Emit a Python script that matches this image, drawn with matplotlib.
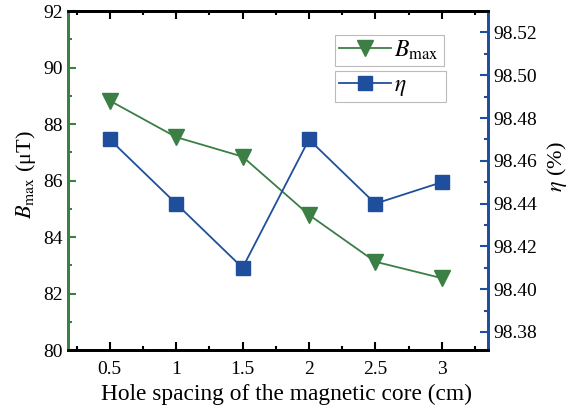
import matplotlib
matplotlib.use("Agg")
import matplotlib.pyplot as plt
from matplotlib.lines import Line2D
from matplotlib.ticker import MultipleLocator, FormatStrFormatter

# Data
spacing = [0.5, 1.0, 1.5, 2.0, 2.5, 3.0]
b_max = [88.83, 87.54, 86.85, 84.79, 83.13, 82.55]
eta = [98.47, 98.44, 98.41, 98.47, 98.44, 98.45]
x_ticks = [0.5, 1, 1.5, 2, 2.5, 3]
x_tick_labels = ["0.5", "1", "1.5", "2", "2.5", "3"]

GREEN = "#3b7f45"
BLUE = "#1f4f9c"

plt.rcParams["font.family"] = "Liberation Serif"
plt.rcParams["mathtext.fontset"] = "stix"

fig = plt.figure(figsize=(5.71, 4.11), dpi=100)
ax = fig.add_axes([0.119, 0.148, 0.736, 0.825])
ax2 = ax.twinx()

ax.plot(spacing, b_max, color=GREEN, lw=1.3, marker="v", ms=12, zorder=3)
ax2.plot(spacing, eta, color=BLUE, lw=1.3, marker="s", ms=10, zorder=3)

ax.set_xlim(0.185, 3.35)
ax.set_ylim(80, 92)
ax2.set_ylim(98.3715, 98.530)

ax.set_xticks(x_ticks)
ax.set_xticklabels(x_tick_labels)
ax.xaxis.set_minor_locator(MultipleLocator(0.25))
ax.yaxis.set_major_locator(MultipleLocator(2))
ax.yaxis.set_minor_locator(MultipleLocator(1))
ax2.yaxis.set_major_locator(MultipleLocator(0.02))
ax2.yaxis.set_minor_locator(MultipleLocator(0.01))
ax2.yaxis.set_major_formatter(FormatStrFormatter("%.2f"))

ax.tick_params(axis="x", which="both", direction="in", top=True, labelsize=14, width=1.5, pad=8)
ax.tick_params(axis="x", which="major", length=6)
ax.tick_params(axis="x", which="minor", length=3)
ax.tick_params(axis="y", which="both", direction="in", colors=GREEN, labelcolor="black", labelsize=14, width=1.5)
ax.tick_params(axis="y", which="major", length=6)
ax.tick_params(axis="y", which="minor", length=3)
ax2.tick_params(axis="y", which="both", direction="in", colors=BLUE, labelcolor="black", labelsize=14, width=1.5)
ax2.tick_params(axis="y", which="major", length=6)
ax2.tick_params(axis="y", which="minor", length=3)

for a in (ax, ax2):
    for s in a.spines.values():
        s.set_linewidth(2)
    a.spines["left"].set_color(GREEN)
    a.spines["right"].set_color(BLUE)
    a.spines["top"].set_color("black")
    a.spines["bottom"].set_color("black")

ax.set_xlabel("Hole spacing of the magnetic core (cm)", fontsize=16.8)
ax.xaxis.set_label_coords(0.519, -0.10)
ax.set_ylabel(r"$B_{\mathrm{max}}$ (μT)", fontsize=16)
ax.yaxis.set_label_coords(-0.071, 0.516)
ax2.set_ylabel(r"$\eta$ (%)", fontsize=16)
ax2.yaxis.set_label_coords(1.135, 0.54)

# Two separate legend boxes, as in the reference
h1 = Line2D([], [], color=GREEN, lw=1.3, marker="v", ms=12)
h2 = Line2D([], [], color=BLUE, lw=1.3, marker="s", ms=10)
leg_kw = dict(loc="upper left", fontsize=17, frameon=True, fancybox=False, edgecolor="#aaaaaa",
              handlelength=2.2, borderpad=0.15, handletextpad=0.15, borderaxespad=0)
leg1 = ax2.legend([h1], [r"$B_{\mathrm{max}}$ "], bbox_to_anchor=(0.636, 0.929), **leg_kw)
leg1.get_frame().set_linewidth(0.8)
ax2.add_artist(leg1)
leg2 = ax2.legend([h2], [r"$\eta$" + "       "], bbox_to_anchor=(0.636, 0.823), **leg_kw)
leg2.get_frame().set_linewidth(0.8)

fig.savefig("out.png", dpi=100)
